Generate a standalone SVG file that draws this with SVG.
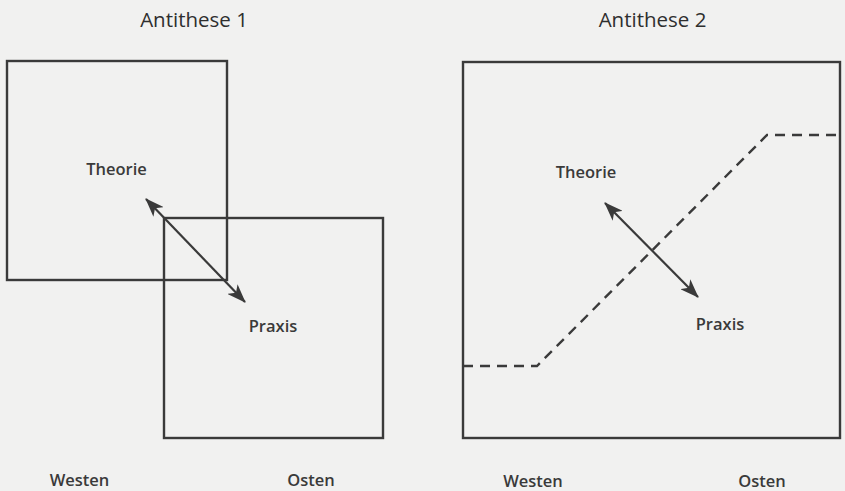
<svg xmlns="http://www.w3.org/2000/svg" width="845" height="491" viewBox="0 0 845 491">
  <style>
    .box { fill: none; stroke: #3a3a3a; stroke-width: 2.4; }
    .title { font-family: "Open Sans", "Liberation Sans", sans-serif; font-size: 20.5px; fill: #2e2e2e; text-anchor: middle; }
    .lbl { font-family: "Open Sans", "Liberation Sans", sans-serif; font-size: 16.5px; font-weight: 600; fill: #3a3a3a; text-anchor: middle; }
    .arrow { fill: none; stroke: #3a3a3a; stroke-width: 2.2; marker-start: url(#head); marker-end: url(#head); }
    .dash { fill: none; stroke: #3a3a3a; stroke-width: 2.4; stroke-dasharray: 10 7; }
  </style>
  <defs>
    <marker id="head" viewBox="0 0 19 14" refX="18" refY="7" markerWidth="19" markerHeight="14" markerUnits="userSpaceOnUse" orient="auto-start-reverse">
      <path d="M0,0 L19,7 L0,14 L5,7 z" fill="#3a3a3a"/>
    </marker>
  </defs>
  <rect width="845" height="491" fill="#f1f1f0"/>

  <g id="panel1-title"><text class="title" x="194" y="27">Antithese 1</text></g>
  <g id="panel1-theorie">
    <rect class="box" x="7" y="61" width="220" height="219"/>
    <text class="lbl" x="116.5" y="175">Theorie</text>
  </g>
  <g id="panel1-praxis">
    <rect class="box" x="164" y="218" width="219" height="220"/>
    <text class="lbl" x="273" y="332">Praxis</text>
  </g>
  <g id="panel1-westen"><text class="lbl" x="79.5" y="486">Westen</text></g>
  <g id="panel1-osten"><text class="lbl" x="311" y="486">Osten</text></g>

  <g id="panel2-title"><text class="title" x="652.5" y="27">Antithese 2</text></g>
  <g id="panel2-box"><rect class="box" x="463" y="62" width="377" height="376"/></g>
  <g id="panel2-theorie"><text class="lbl" x="586" y="178">Theorie</text></g>
  <g id="panel2-praxis"><text class="lbl" x="720" y="330">Praxis</text></g>
  <g id="panel2-westen"><text class="lbl" x="533" y="487">Westen</text></g>
  <g id="panel2-osten"><text class="lbl" x="762" y="487">Osten</text></g>

  <g id="connectors">
    <line class="arrow" x1="146" y1="199" x2="245" y2="302"/>
    <line class="arrow" x1="605" y1="203" x2="698" y2="297"/>
    <path class="dash" d="M463,366 L537,366 L767,135 L840,135"/>
  </g>
</svg>
